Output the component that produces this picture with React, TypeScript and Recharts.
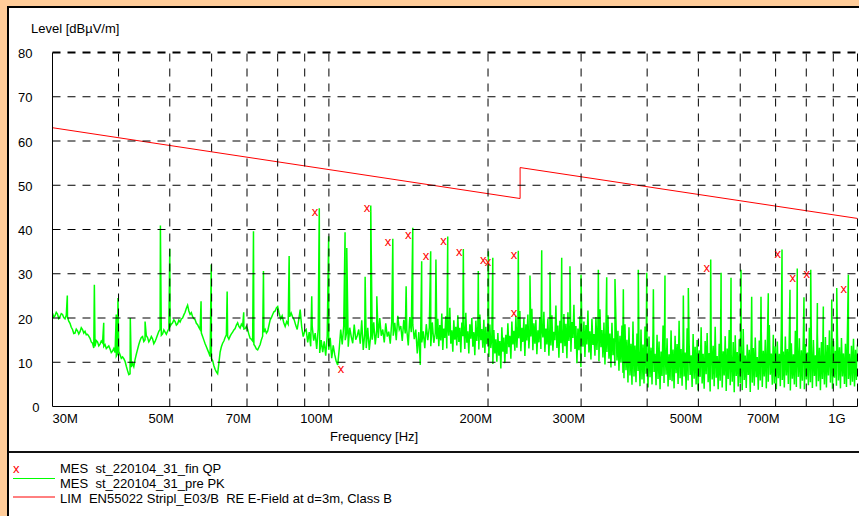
import { ComposedChart, Line, Scatter, XAxis, YAxis, ReferenceLine } from "recharts";

const FONT = '"Liberation Sans", Arial, Helvetica, sans-serif';

// axis ticks (frequency in MHz, level in dBµV/m)
const xTicks = [30, 40, 50, 60, 70, 80, 90, 100, 200, 300, 400, 500, 600, 700, 800, 900, 1000];
const xLabels: Record<number, string> = {
  30: "30M", 50: "50M", 70: "70M", 100: "100M", 200: "200M",
  300: "300M", 500: "500M", 700: "700M", 1000: "1G",
};
const yTicks = [0, 10, 20, 30, 40, 50, 60, 70, 80];

// LIM EN55022 Stripl_E03/B
const limitFreq = [30, 230, 230, 1000];
const limitLevel = [63, 47, 54, 42.5];

// MES fin QP
const qpFreq = [94.1, 105.4, 118.1, 129.4, 141.3, 152.6, 164.8, 176.5, 195.9, 200.0, 223.9, 223.9, 518.4, 706.4, 754.2, 801.5, 942.1];
const qpLevel = [43.8, 8.4, 44.8, 37.1, 38.6, 33.9, 37.3, 34.8, 32.9, 32.6, 34.1, 21.1, 31.2, 34.4, 28.8, 29.7, 26.5];

// MES pre PK: sweep segments
const pk30to80 = [
  21.1, 20.2, 20.5, 21.3, 20.9, 19.9, 20.3, 21.0, 20.8, 20.1,
  19.8, 20.6, 20.2, 19.3, 18.8, 17.9, 17.4, 16.5, 16.6, 17.5,
  17.1, 16.4, 16.9, 17.8, 17.4, 16.6, 17.0, 16.2, 16.3, 15.9,
  15.4, 14.6, 14.3, 13.2, 13.6, 14.9, 14.6, 13.7, 14.1, 14.8,
  14.4, 13.6, 14.0, 13.1, 13.4, 13.7, 13.0, 12.2, 12.5, 13.1,
  12.2, 11.4, 11.9, 12.4, 11.7, 10.9, 11.2, 10.8, 10.2, 9.1,
  8.1, 7.2, 7.4, 8.9, 9.8, 9.0, 10.6, 11.8, 12.9, 14.0,
  14.9, 15.6, 15.8, 14.7, 15.1, 16.0, 15.6, 14.6, 15.1, 15.8,
  15.3, 14.2, 14.7, 15.4, 16.2, 17.0, 17.4, 16.1, 16.4, 17.3,
  16.8, 16.3, 17.0, 17.6, 18.1, 18.6, 18.9, 19.6, 19.2, 18.4,
  18.7, 19.5, 19.1, 19.8, 20.0, 20.7, 21.3, 22.2, 22.9, 21.6,
  20.8, 21.2, 20.3, 19.9, 19.6, 18.8, 18.5, 17.9, 17.4, 16.6,
  15.8, 15.0, 14.2, 13.5, 12.8, 12.1, 11.3, 10.9, 10.4, 9.2,
  8.4, 7.8, 7.4, 9.8, 12.3, 13.5, 14.3, 14.8, 15.6, 16.2,
  15.8, 15.2, 15.9, 16.4, 16.8, 17.3, 17.6, 18.4, 18.9, 18.1,
  17.7, 18.6, 18.2, 17.5, 17.6, 18.1, 17.4, 16.3, 15.4, 15.2,
  14.8, 14.0, 13.6, 13.0, 12.8, 13.4, 14.0, 15.1, 15.9, 16.8,
  17.4, 16.6, 17.0, 18.3, 19.6, 20.1, 20.8, 21.4, 21.6, 22.3,
  22.6,
];
const pk80to160 = [
  22.6, 21.0, 19.8, 20.5, 19.0, 18.1, 19.2, 18.6, 20.3, 21.1,
  20.2, 19.6, 18.4, 17.4, 19.5, 21.9, 18.0, 15.8, 17.0, 17.4,
  14.5, 16.8, 13.6, 18.2, 14.9, 16.6, 13.0, 17.5, 12.1, 15.0,
  12.3, 14.7, 11.5, 16.0, 12.8, 15.5, 10.9, 13.8, 11.7, 10.2,
  9.4, 13.0, 17.4, 14.0, 18.2, 15.0, 16.8, 13.5, 17.8, 15.8,
  14.3, 18.5, 15.1, 16.0, 17.4, 14.2, 19.5, 12.8, 16.5, 13.2,
  17.8, 12.8, 16.0, 15.1, 19.0, 14.0, 17.4, 15.5, 20.0, 16.0,
  17.4, 14.5, 18.8, 15.8, 16.9, 14.2, 19.2, 16.0, 18.9, 15.0,
  20.5, 17.4, 18.2, 14.8, 19.6, 16.5, 17.4, 13.8, 20.2, 16.8,
  18.5, 15.2, 17.4, 12.0, 16.8, 9.4, 14.5, 17.0, 13.2, 18.6,
  15.0, 17.8, 13.6, 19.0, 14.4, 16.6, 15.8,
];
const pk160to360 = [
  15.2, 19.8, 13.6, 18.4, 14.9, 21.0, 12.8, 17.6, 15.5, 20.4,
  13.1, 18.9, 16.0, 22.3, 14.2, 17.2, 12.4, 19.5, 15.1, 18.0,
  13.8, 20.6, 14.6, 17.8, 12.2, 19.0, 15.9, 18.4, 13.0, 21.2,
  14.4, 17.0, 12.0, 18.6, 15.3, 20.0, 13.5, 16.8, 11.6, 19.4,
  14.8, 18.1, 12.9, 20.8, 15.0, 17.5, 13.3, 19.6, 12.1, 18.0,
  14.1, 16.9, 11.2, 18.5, 13.2, 15.8, 9.6, 17.3, 12.0, 15.2,
  10.1, 16.6, 11.5, 14.8, 8.6, 17.9, 12.4, 15.6, 9.8, 16.2,
  11.9, 18.8, 13.4, 16.0, 10.8, 19.2, 14.0, 17.1, 12.6, 20.5,
  13.3, 18.2, 15.4, 21.6, 12.5, 17.8, 14.6, 19.9, 11.4, 18.6,
  14.9, 20.8, 13.1, 17.4, 15.8, 22.1, 12.7, 18.8, 14.2, 19.6,
  11.8, 17.2, 14.5, 20.2, 13.0, 18.4, 15.6, 21.4, 12.3, 17.6,
  14.0, 19.8, 11.5, 18.0, 13.8, 20.6, 12.6, 16.9, 15.0, 22.8,
  13.2, 18.3, 11.0, 19.4, 14.3, 17.5, 12.1, 20.9, 13.6, 18.7,
  10.9, 21.3, 14.8, 17.9, 12.4, 19.1, 15.5, 23.0, 13.0, 18.2,
  9.8, 17.6, 12.7, 20.4, 8.9, 16.8, 13.5, 19.2, 11.2, 18.4,
  14.0, 21.7, 12.2, 17.0, 10.6, 19.8, 13.9, 16.4, 11.5, 20.2,
  12.8, 18.5, 10.2, 22.0, 13.4, 17.3, 11.1, 19.0, 9.5, 17.8,
  12.3, 20.6, 10.8, 16.5, 8.8, 18.9, 11.6, 15.4, 9.2, 19.5,
  10.4, 17.1, 8.1, 16.0, 9.9, 18.3, 7.6,
];
const pk360to1000 = [
  16.8, 6.4, 18.6, 8.2, 15.1, 5.4, 17.9, 7.0, 14.2, 4.9,
  19.2, 6.8, 13.8, 5.5, 16.5, 8.0, 12.9, 4.6, 17.4, 6.1,
  14.0, 5.2, 18.1, 7.4, 12.6, 4.3, 15.8, 6.6, 13.3, 5.0,
  17.0, 7.8, 11.9, 4.8, 16.2, 6.2, 14.7, 3.9, 12.4, 6.9,
  18.3, 5.3, 13.6, 7.2, 15.4, 4.5, 11.8, 6.0, 17.2, 5.7,
  12.9, 4.1, 16.0, 7.5, 14.1, 5.1, 19.4, 6.4, 13.0, 4.7,
  15.6, 6.8, 12.2, 3.8, 17.7, 5.9, 14.4, 7.1, 11.6, 4.4,
  16.4, 6.3, 13.5, 5.0, 15.0, 3.6, 12.7, 6.7, 17.9, 5.2,
  11.9, 4.0, 14.8, 7.3, 16.6, 5.5, 12.1, 3.4, 15.3, 6.1,
  13.7, 4.6, 18.0, 6.5, 11.4, 3.9, 14.2, 5.8, 16.8, 4.3,
  12.5, 7.0, 15.9, 3.5, 13.1, 6.2, 17.3, 4.8, 11.7, 5.6,
  14.6, 3.2, 16.1, 6.9, 12.3, 4.5, 15.2, 5.3, 13.4, 3.7,
  17.5, 6.0, 11.5, 4.2, 14.0, 7.1, 12.8, 3.3, 16.3, 5.4,
  13.2, 4.7, 15.6, 6.6, 11.2, 3.8, 14.9, 5.9, 17.0, 4.4,
  12.6, 6.8, 15.1, 4.1, 13.9, 5.6, 18.4, 7.2, 12.0, 4.9,
  16.2, 5.2, 13.6, 3.9, 14.7, 6.4, 11.9, 4.6, 17.6, 6.0,
  12.4, 4.3, 15.8, 7.0, 13.0, 5.1, 16.6, 3.6, 14.3, 6.3,
  11.8, 5.0, 17.1, 4.4, 13.5, 6.7, 15.4, 4.0, 12.7, 5.8,
  16.0, 3.9, 14.1, 6.1, 12.2, 4.8, 17.8, 5.5, 13.8, 4.2,
  15.0, 6.9, 11.6, 4.5, 16.4, 5.7, 13.3, 3.7, 14.6, 6.2,
  12.1, 5.0, 15.7, 4.3, 13.9, 7.0, 17.2, 5.4, 11.7, 4.0,
  14.8, 6.5, 12.6, 4.7, 16.1, 5.9, 13.4, 4.1, 15.5, 6.8,
  12.0, 5.1, 14.2, 4.4, 17.4, 6.2, 11.9, 4.8, 13.7, 5.6,
  15.3, 4.5, 12.8, 6.0, 14.0,
];

// narrow PK spikes
const spikeFreq = [
  32.0, 36.0, 37.5, 39.6, 39.9, 42.1, 44.9, 48.0, 50.0, 57.3,
  59.9, 64.2, 69.0, 72.0, 75.2, 84.1, 92.8, 95.9, 99.9, 107.3,
  108.1, 117.1, 120.0, 123.2, 132.1, 140.0, 144.1, 149.8, 155.8, 159.4,
  167.8, 179.6, 191.7, 200.3, 204.2, 228.2, 240.1, 252.7, 262.0, 275.7,
  285.8, 299.9, 323.4, 335.4, 347.7, 360.6, 384.9, 399.3, 411.0, 432.3,
  468.3, 478.6, 527.6, 552.0, 576.4, 602.0, 630.7, 656.8, 678.0, 719.8,
  745.2, 769.2, 792.0, 815.7, 839.6, 861.7, 893.8, 913.5, 960.9,
];
const spikeLevel = [
  25.1, 27.5, 18.9, 20.8, 24.5, 20.0, 19.2, 40.9, 35.6, 23.8,
  32.1, 26.0, 21.3, 39.6, 30.6, 34.0, 24.9, 44.8, 38.5, 39.4,
  35.8, 29.3, 45.4, 24.9, 37.9, 27.2, 40.4, 32.8, 35.1, 33.2,
  38.4, 35.6, 30.6, 35.1, 33.6, 35.2, 29.6, 35.3, 30.4, 33.6,
  31.7, 29.8, 30.9, 29.2, 28.8, 26.5, 30.9, 30.2, 26.5, 29.6,
  25.1, 26.8, 33.2, 30.2, 29.1, 30.9, 24.8, 24.8, 25.6, 35.5,
  26.4, 31.2, 24.7, 30.9, 23.4, 22.6, 24.2, 26.8, 29.8,
];

type Pt = { f: number; v: number };

function sweep(from: number, to: number, levels: number[]): Pt[] {
  return levels.map((v, i) => ({ f: from * Math.pow(to / from, i / (levels.length - 1)), v }));
}

const pkData: Pt[] = [
  ...sweep(30, 80, pk30to80),
  ...sweep(80, 160, pk80to160),
  ...sweep(160, 360, pk160to360),
  ...sweep(360, 1000, pk360to1000),
  ...spikeFreq.map((f, i) => ({ f, v: spikeLevel[i] })),
].sort((a, b) => a.f - b.f);

const limitData: Pt[] = limitFreq.map((f, i) => ({ f, v: limitLevel[i] }));
const qpData: Pt[] = qpFreq.map((f, i) => ({ f, v: qpLevel[i] }));

function FreqTick({ x, payload }: any) {
  const label = xLabels[payload.value];
  if (!label) return <g />;
  let anchor = "end";
  let tx = x + 4;
  if (payload.value === 30) {
    anchor = "start";
    tx = x;
  }
  if (payload.value === 1000) tx = x - 12;
  return (
    <text x={tx} y={423} textAnchor={anchor} fontFamily={FONT} fontSize={13} fill="#000">
      {label}
    </text>
  );
}

function LevelTick({ y, payload }: any) {
  const tx = payload.value === 0 ? 39.5 : 32.5;
  return (
    <text x={tx} y={y + 5.5} textAnchor="end" fontFamily={FONT} fontSize={13} fill="#000">
      {payload.value}
    </text>
  );
}

function QpMark({ cx, cy }: any) {
  return (
    <text x={cx} y={cy + 3.4} textAnchor="middle" fontFamily={FONT} fontSize={13} fill="#ff0000">
      x
    </text>
  );
}

export default function App() {
  return (
    <div style={{ position: "fixed", left: 0, top: 0, width: 859, height: 516, overflow: "hidden", background: "#fff" }}>
      {/* peach frame, top and left only */}
      <div style={{ position: "absolute", left: 0, top: 0, width: 859, height: 6, background: "#ffcc99" }} />
      <div style={{ position: "absolute", left: 0, top: 0, width: 7, height: 516, background: "#ffcc99" }} />
      <div style={{ position: "absolute", left: 7, top: 6, width: 852, height: 2, background: "#000" }} />
      <div style={{ position: "absolute", left: 7, top: 6, width: 2, height: 510, background: "#000" }} />
      <div style={{ position: "absolute", left: 9, top: 451, width: 850, height: 2, background: "#111" }} />
      <div style={{ position: "absolute", left: 0, top: 0 }}>
        <ComposedChart width={859} height={516} margin={{ top: 52.5, right: 1.5, bottom: 79.5, left: 0 }}>
          <XAxis
            dataKey="f"
            type="number"
            scale="log"
            domain={[30, 1000]}
            allowDataOverflow
            ticks={xTicks}
            interval={0}
            tick={<FreqTick />}
            tickLine={false}
            axisLine={{ stroke: "#000" }}
            height={30}
          />
          <YAxis
            dataKey="v"
            type="number"
            domain={[0, 80]}
            ticks={yTicks}
            interval={0}
            tick={<LevelTick />}
            tickLine={false}
            axisLine={{ stroke: "#000" }}
            width={52.5}
          />
          <Line data={pkData} dataKey="v" stroke="#00ff00" strokeWidth={1.5} dot={false} isAnimationActive={false} />
          <Line data={limitData} dataKey="v" stroke="#ff0000" strokeWidth={1} dot={false} isAnimationActive={false} />
          {xTicks.slice(1).map((t) => (
            <ReferenceLine key={"x" + t} x={t} stroke="#000" strokeDasharray="8 7" />
          ))}
          {yTicks.slice(1, -1).map((t) => (
            <ReferenceLine key={"y" + t} y={t} stroke="#000" strokeDasharray="8 7" />
          ))}
          <ReferenceLine y={80} stroke="#000" strokeWidth={2} strokeDasharray="8 7" />
          <Scatter data={qpData} dataKey="v" shape={<QpMark />} isAnimationActive={false} />
        </ComposedChart>
      </div>
      <svg width={859} height={516} style={{ position: "absolute", left: 0, top: 0 }} fontFamily={FONT} fontSize={13}>
        <text x={31} y={33} fill="#000">Level [dBµV/m]</text>
        <text x={330} y={441} fill="#000">Frequency [Hz]</text>
        <text x={13} y={472.5} fill="#ff0000">x</text>
        <line x1={13} x2={55} y1={478.5} y2={478.5} stroke="#00ff00" />
        <line x1={13} x2={55} y1={497} y2={497} stroke="#ff0000" />
        <text x={60} y={472.5} fill="#000" style={{ whiteSpace: "pre" }}>MES  st_220104_31_fin QP</text>
        <text x={60} y={487.5} fill="#000" style={{ whiteSpace: "pre" }}>MES  st_220104_31_pre PK</text>
        <text x={60} y={502.5} fill="#000" style={{ whiteSpace: "pre" }}>LIM  EN55022 Stripl_E03/B  RE E-Field at d=3m, Class B</text>
      </svg>
    </div>
  );
}
